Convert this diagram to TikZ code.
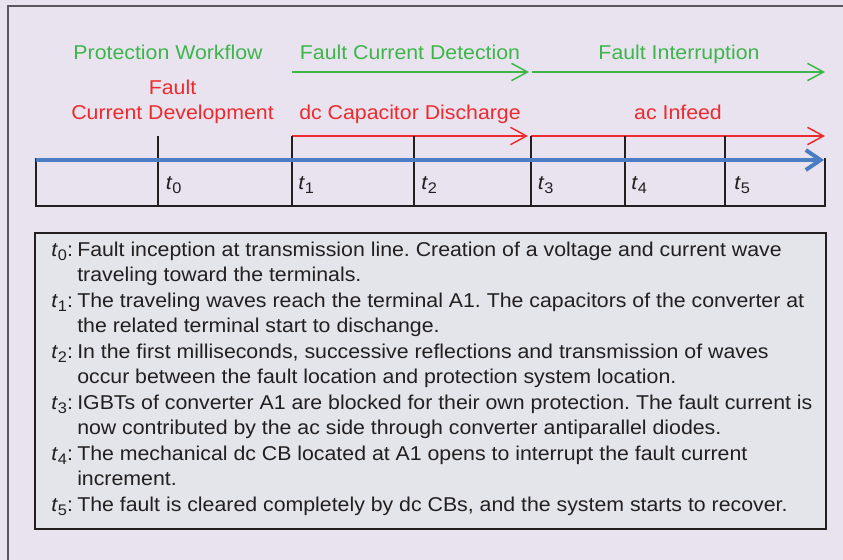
\documentclass[tikz,border=0pt]{standalone}
\usepackage{fontspec}
\setmainfont[FakeStretch=1.065]{Liberation Sans}
\usetikzlibrary{arrows.meta}

\definecolor{pagebg}{HTML}{E8E3EF}
\definecolor{framegray}{HTML}{5A585E}
\definecolor{boxfill}{HTML}{E3E5EA}
\definecolor{wfgreen}{HTML}{3DB54A}
\definecolor{wfred}{HTML}{EE2A2E}
\definecolor{axisblue}{HTML}{4A7DC1}
\definecolor{inkgray}{HTML}{231F20}

% italic t with a large, lowered index
\newcommand\tlab[1]{\textit{t}\raisebox{-0.42ex}{\fontsize{11.5}{12}\selectfont #1}}

\tikzset{
  basefont/.style={font=\fontsize{15}{18}\selectfont\frenchspacing},
  headtxt/.style={anchor=base, inner sep=0pt, basefont},
  greentxt/.style={headtxt, text=wfgreen},
  redtxt/.style={headtxt, text=wfred},
  phasegreen/.style={draw=wfgreen, line width=1.1pt, -{Straight Barb[length=12pt,width=13pt,line width=1.1pt]}},
  phasered/.style={draw=wfred, line width=1.1pt, -{Straight Barb[length=12pt,width=13pt,line width=1.1pt]}},
  timeaxis/.style={draw=axisblue, line width=3pt, -{Straight Barb[length=11pt,width=15pt,line width=3pt]}},
  gridline/.style={draw=inkgray, line width=1.5pt},
  ticklab/.style={anchor=base west, inner sep=0pt, text=inkgray, basefont},
  bodytxt/.style={anchor=base west, inner sep=0pt, text=inkgray, basefont},
}

\begin{document}
\begin{tikzpicture}[x=0.75pt, y=-0.75pt]
  \useasboundingbox (0,0) rectangle (843,560);
  % page background and frame edges
  \fill[pagebg] (0,0) rectangle (843,560);
  \draw[framegray, line width=1.9pt] (8,560) -- (8,5.8) -- (843,5.8);

  % phase headings
  \node[greentxt] (pw)  at (168,59.3) {Protection Workflow};
  \node[greentxt] (fcd) at (410,59.3) {Fault Current Detection};
  \node[greentxt] (fi)  at (679,59.3) {Fault Interruption};
  \node[redtxt] (fcd1) at (172.5,94.5) {Fault};
  \node[redtxt] (fcd2) at (172.5,120) {Current Development};
  \node[redtxt] (dcd)  at (410,120) {dc Capacitor Discharge};
  \node[redtxt] (aci)  at (678,120) {ac Infeed};

  % phase arrows
  \coordinate (g1) at (292,72);
  \coordinate (g2) at (529,72);
  \coordinate (g3) at (532,72);
  \coordinate (g4) at (825,72);
  \draw[phasegreen] (g1) -- (g2);
  \draw[phasegreen] (g3) -- (g4);

  \coordinate (r1) at (292,136);
  \coordinate (r2) at (528,136);
  \coordinate (r3) at (530.5,136);
  \coordinate (r4) at (825,136);
  \draw[phasered] (r1) -- (r2);
  \draw[phasered] (r3) -- (r4);

  % time table
  \draw[gridline] (36,158) -- (36,205.5) -- (825,205.5) -- (825,158);
  \foreach \xx in {158,292,414,530.5,625,725}
    \draw[gridline] (\xx,136) -- (\xx,205.5);

  % time axis
  \coordinate (a0) at (36,160);
  \coordinate (a1) at (824,160);
  \draw[timeaxis] (a0) -- (a1);

  % instants
  \node[ticklab] (l0) at (165.5,189) {\tlab{0}};
  \node[ticklab] (l1) at (298,189) {\tlab{1}};
  \node[ticklab] (l2) at (421,189) {\tlab{2}};
  \node[ticklab] (l3) at (537.5,189) {\tlab{3}};
  \node[ticklab] (l4) at (631,189) {\tlab{4}};
  \node[ticklab] (l5) at (734,189) {\tlab{5}};

  % legend box
  \draw[fill=boxfill, draw=inkgray, line width=1.3pt] (35,233) rectangle (826,529);

  \node[bodytxt] (k0) at (51,256) {\tlab{0}:};
  \node[bodytxt] (d0a) at (77,256) {Fault inception at transmission line. Creation of a voltage and current wave};
  \node[bodytxt] (d0b) at (77,281.5) {traveling toward the terminals.};
  \node[bodytxt] (k1) at (51,307) {\tlab{1}:};
  \node[bodytxt] (d1a) at (77,307) {The traveling waves reach the terminal A1. The capacitors of the converter at};
  \node[bodytxt] (d1b) at (77,332.5) {the related terminal start to dischange.};
  \node[bodytxt] (k2) at (51,358) {\tlab{2}:};
  \node[bodytxt] (d2a) at (77,358) {In the first milliseconds, successive reflections and transmission of waves};
  \node[bodytxt] (d2b) at (77,383.5) {occur between the fault location and protection system location.};
  \node[bodytxt] (k3) at (51,409) {\tlab{3}:};
  \node[bodytxt] (d3a) at (77,409) {IGBTs of converter A1 are blocked for their own protection. The fault current is};
  \node[bodytxt] (d3b) at (77,434.5) {now contributed by the ac side through converter antiparallel diodes.};
  \node[bodytxt] (k4) at (51,460) {\tlab{4}:};
  \node[bodytxt] (d4a) at (77,460) {The mechanical dc CB located at A1 opens to interrupt the fault current};
  \node[bodytxt] (d4b) at (77,485.5) {increment.};
  \node[bodytxt] (k5) at (51,511) {\tlab{5}:};
  \node[bodytxt] (d5a) at (77,511) {The fault is cleared completely by dc CBs, and the system starts to recover.};
\end{tikzpicture}
\end{document}
